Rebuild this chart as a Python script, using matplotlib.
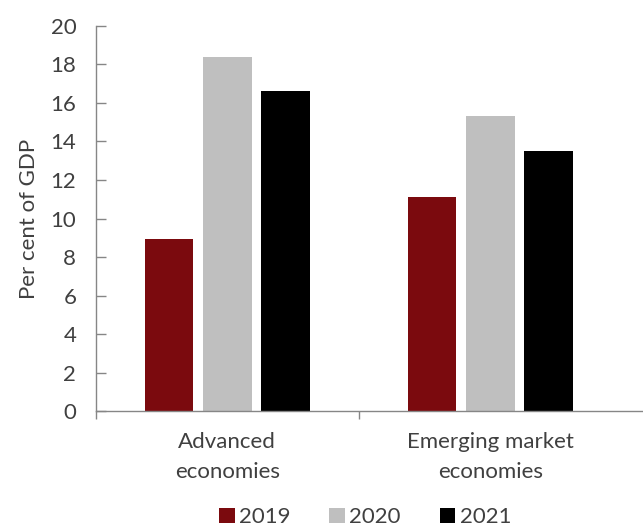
import matplotlib.pyplot as plt
import numpy as np
from matplotlib.patches import Patch

plt.rcParams['font.family'] = ['Lato', 'DejaVu Sans']

# deficit data, per cent of GDP
groups = ['Advanced\neconomies', 'Emerging market\neconomies']
years = ['2019', '2020', '2021']
vals_2019 = [8.95, 11.1]
vals_2020 = [18.4, 15.3]
vals_2021 = [16.6, 13.5]

colours = ['#7b0a0e', '#bfbfbf', '#000000']
txt = '#404040'
axis_grey = '#868686'
fs = 16

fig = plt.figure(figsize=(6.43, 5.26), dpi=100)
ax = fig.add_axes([0.149, 0.2186, 0.851, 0.732])

x = np.arange(len(groups))
step = 0.222
width = 0.185
for i, (vals, c) in enumerate(zip([vals_2019, vals_2020, vals_2021], colours)):
    ax.bar(x + (i - 1) * step, vals, width=width, color=c, zorder=2)

ax.set_ylim(0, 20)
ax.set_yticks(np.arange(0, 21, 2))
ax.set_xlim(-0.5, 1.58)

# category boundary ticks, labels centred under each group
ax.set_xticks([-0.5, 0.5])
ax.set_xticklabels([])
ax.set_xticks(x, minor=True)
ax.set_xticklabels(groups, minor=True, fontsize=fs, color=txt, linespacing=1.65)
ax.tick_params(axis='x', which='minor', length=0, pad=15)
ax.tick_params(axis='x', which='major', length=6, color=axis_grey, width=1)
ax.tick_params(axis='y', direction='in', length=7, color=axis_grey, width=1,
               labelsize=fs, labelcolor=txt, pad=14)

for s in ['top', 'right']:
    ax.spines[s].set_visible(False)
for s in ['left', 'bottom']:
    ax.spines[s].set_color(axis_grey)
    ax.spines[s].set_linewidth(1)

ax.set_ylabel('Per cent of GDP', fontsize=fs, color=txt, labelpad=8)

handles = [Patch(facecolor=c, edgecolor='none') for c in colours]
fig.legend(handles, years, loc='center', bbox_to_anchor=(0.568, 0.017),
           ncol=3, frameon=False, fontsize=fs, handlelength=0.7,
           handleheight=0.7, handletextpad=0.2, columnspacing=1.75,
           labelcolor=txt)

fig.savefig('out.png', dpi=100)
